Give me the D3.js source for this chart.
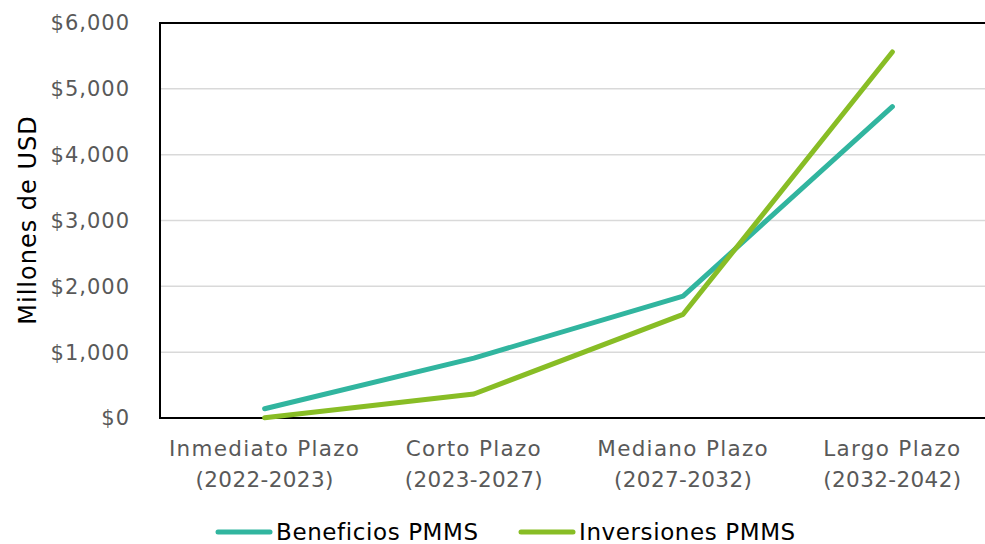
<!DOCTYPE html>
<html><head><meta charset="utf-8">
<script src="https://cdn.jsdelivr.net/npm/d3@7"></script>
<style>
html,body{margin:0;padding:0;background:#fff;}
svg{display:block;font-family:"DejaVu Sans",sans-serif;}
</style></head>
<body>
<svg id="c" width="985" height="544"></svg>
<script>
const categories = [["Inmediato Plazo","(2022-2023)"],["Corto Plazo","(2023-2027)"],["Mediano Plazo","(2027-2032)"],["Largo Plazo","(2032-2042)"]];
const beneficios = [140, 910, 1850, 4730];
const inversiones = [5, 365, 1575, 5560];
const yTicks = [0, 1000, 2000, 3000, 4000, 5000, 6000];
const seriesNames = ["Beneficios PMMS", "Inversiones PMMS"];
const colors = ["#31b59f", "#88bd25"];

(function(){
const svg = d3.select("#c");
const pL = 160, pR = 997, pT = 23, pB = 418;
const x = d3.scaleBand().domain(categories.map((d,i)=>i)).range([pL, pR]).padding(0);
const y = d3.scaleLinear().domain([0, 6000]).range([pB, pT]);

// gridlines
svg.append("g").selectAll("line").data(yTicks.filter(t=>t>0 && t<6000)).join("line")
  .attr("x1", pL).attr("x2", pR).attr("y1", d=>y(d)).attr("y2", d=>y(d))
  .attr("stroke", "#d9d9d9").attr("stroke-width", 1.5);

// frame lines
svg.append("line").attr("x1", pL).attr("x2", pR).attr("y1", y(6000)).attr("y2", y(6000)).attr("stroke","#000").attr("stroke-width",2);
svg.append("line").attr("x1", pL).attr("x2", pL).attr("y1", y(6000)-1).attr("y2", y(0)+1).attr("stroke","#000").attr("stroke-width",2);
svg.append("line").attr("x1", pL).attr("x2", pR).attr("y1", y(0)).attr("y2", y(0)).attr("stroke","#000").attr("stroke-width",2);

// y tick labels
const fmt = d3.format("$,");
svg.append("g").selectAll("text").data(yTicks).join("text")
  .attr("x", 130).attr("y", d=>y(d)).attr("dy", "0.35em").attr("text-anchor","end")
  .attr("font-size", 21).attr("letter-spacing", 1).attr("fill", "#595959").text(d=>fmt(d));

// x labels
const xl = svg.append("g").selectAll("text").data(categories).join("text")
  .attr("text-anchor","middle").attr("font-size", 21.5).attr("fill","#595959");
xl.each(function(d,i){
  const t = d3.select(this);
  const cx = x(i) + x.bandwidth()/2;
  t.append("tspan").attr("x", cx).attr("y", 456).attr("letter-spacing", 1.3).text(d[0]);
  t.append("tspan").attr("x", cx).attr("y", 487).attr("letter-spacing", 0.4).text(d[1]);
});

// y axis title
svg.append("text").attr("transform", "translate(36,220) rotate(-90)")
  .attr("text-anchor","middle").attr("font-size", 24).attr("letter-spacing", 1)
  .attr("fill","#000").text("Millones de USD");

// lines
const line = d3.line().x((d,i)=>x(i)+x.bandwidth()/2).y(d=>y(d));
[beneficios, inversiones].forEach((s, k)=>{
  svg.append("path").datum(s).attr("d", line).attr("fill","none")
    .attr("stroke", colors[k]).attr("stroke-width", 5)
    .attr("stroke-linecap","round").attr("stroke-linejoin","round");
});

// legend
const legendX = [218, 521];
seriesNames.forEach((n,k)=>{
  svg.append("line").attr("x1", legendX[k]).attr("x2", legendX[k]+52).attr("y1", 532).attr("y2", 532)
    .attr("stroke", colors[k]).attr("stroke-width", 5).attr("stroke-linecap","round");
  svg.append("text").attr("x", legendX[k]+58).attr("y", 532).attr("dy","0.35em")
    .attr("font-size", 23).attr("letter-spacing", 0.6).attr("fill","#000").text(n);
});
})();
</script>
</body></html>
